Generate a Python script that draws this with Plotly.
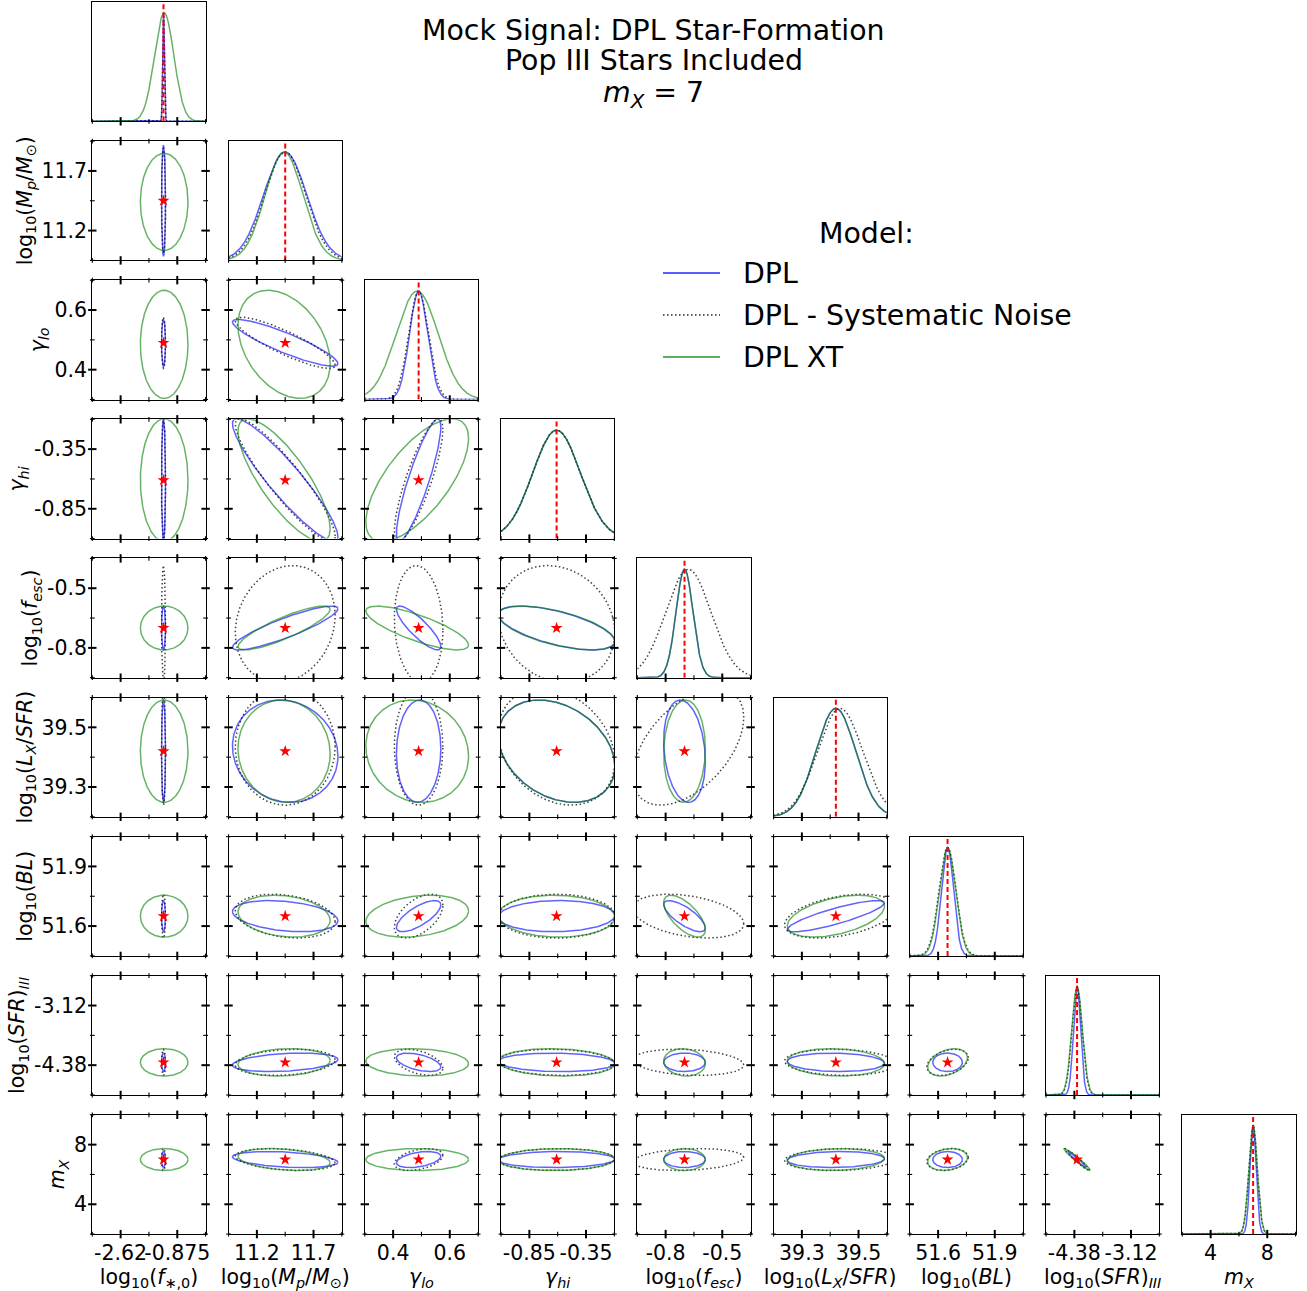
import numpy as np
import plotly.graph_objects as go

FIG_W, FIG_H = 1307, 1291
FONT = "DejaVu Sans"

# ---------------------------------------------------------------- parameters
param_labels = [
    "log<sub>10</sub>(<i>f</i><sub>∗,0</sub>)",
    "log<sub>10</sub>(<i>M<sub>p</sub></i>/<i>M</i><sub>⊙</sub>)",
    "<i>γ<sub>lo</sub></i>",
    "<i>γ<sub>hi</sub></i>",
    "log<sub>10</sub>(<i>f<sub>esc</sub></i>)",
    "log<sub>10</sub>(<i>L<sub>X</sub></i>/<i>SFR</i>)",
    "log<sub>10</sub>(<i>BL</i>)",
    "log<sub>10</sub>(<i>SFR</i>)<sub><i>III</i></sub>",
    "<i>m<sub>X</sub></i>",
]
axis_lo = [-3.5, 10.95, 0.3, -1.1, -0.95, 39.2, 51.45, -5.01, 2.0]
axis_hi = [0.0, 11.95, 0.7, -0.1, -0.35, 39.6, 52.05, -2.49, 10.0]
tick_values = [[-2.625, -0.875], [11.2, 11.7], [0.4, 0.6], [-0.85, -0.35],
               [-0.8, -0.5], [39.3, 39.5], [51.6, 51.9], [-4.38, -3.12], [4, 8]]
tick_labels = [["-2.62", "-0.875"], ["11.2", "11.7"], ["0.4", "0.6"], ["-0.85", "-0.35"],
               ["-0.8", "-0.5"], ["39.3", "39.5"], ["51.6", "51.9"], ["-4.38", "-3.12"], ["4", "8"]]

# injected (true) parameter values of the mock signal
truth = [-1.30, 11.45, 0.49, -0.61, -0.70, 39.42, 51.65, -4.32, 7.0]

# posterior summaries per model: means and standard deviations
mean_dpl = [-1.30, 11.45, 0.49, -0.61, -0.70, 39.42, 51.65, -4.32, 7.0]
mean_sys = [-1.30, 11.45, 0.49, -0.61, -0.68, 39.435, 51.65, -4.32, 7.0]
mean_xt = [-1.28, 11.44, 0.485, -0.61, -0.70, 39.42, 51.65, -4.32, 7.0]

sigma_dpl = [0.025, 0.19, 0.032, 0.21, 0.045, 0.07, 0.032, 0.08, 0.22]
sigma_sys = [0.025, 0.18, 0.035, 0.21, 0.12, 0.08, 0.045, 0.113, 0.30]
sigma_xt = [0.30, 0.166, 0.074, 0.21, 0.045, 0.07, 0.043, 0.118, 0.30]

# pairwise correlation coefficients (row parameter, column parameter)
pairs = [(1, 0), (2, 0), (3, 0), (4, 0), (5, 0), (6, 0), (7, 0), (8, 0),
         (2, 1), (3, 1), (4, 1), (5, 1), (6, 1), (7, 1), (8, 1),
         (3, 2), (4, 2), (5, 2), (6, 2), (7, 2), (8, 2),
         (4, 3), (5, 3), (6, 3), (7, 3), (8, 3),
         (5, 4), (6, 4), (7, 4), (8, 4),
         (6, 5), (7, 5), (8, 5),
         (7, 6), (8, 6),
         (8, 7)]
rho_dpl = [0, 0, 0, 0, 0, 0, 0, 0,
           -0.89, -0.92, 0.88, -0.10, -0.30, 0.30, -0.35,
           0.87, -0.85, 0.05, 0.72, -0.50, 0.40,
           -0.62, -0.30, 0.05, -0.10, 0.05,
           -0.20, -0.75, 0.00, 0.00,
           0.85, -0.10, 0.10,
           0.00, 0.00,
           -0.97]
rho_sys = [0, 0, 0, 0, 0, 0, 0, 0,
           -0.87, -0.91, 0.15, 0.00, -0.25, 0.20, -0.30,
           0.83, -0.10, 0.00, 0.50, -0.45, 0.40,
           -0.15, -0.25, 0.00, -0.10, 0.05,
           0.50, -0.35, -0.20, 0.20,
           0.40, -0.10, 0.10,
           0.35, 0.20,
           -0.97]
rho_xt = [0, 0, 0, 0, 0, 0, 0, 0,
          -0.35, -0.79, 0.85, -0.05, -0.20, 0.15, -0.30,
          0.68, -0.78, -0.10, 0.25, -0.10, 0.00,
          -0.60, -0.30, -0.05, -0.10, 0.05,
          0.05, -0.65, -0.10, 0.00,
          0.46, -0.10, 0.10,
          0.35, 0.20,
          -0.97]

model_names = ["DPL", "DPL - Systematic Noise", "DPL XT"]
model_colors = ["rgba(0,0,255,0.62)", "rgba(0,0,0,0.75)", "rgba(0,128,0,0.6)"]
legend_colors = ["rgba(0,0,255,0.85)", "rgba(0,0,0,0.85)", "rgba(0,128,0,0.85)"]
model_dash = ["solid", "1.5px,2.5px", "solid"]
model_means = [mean_dpl, mean_sys, mean_xt]
model_sigmas = [sigma_dpl, sigma_sys, sigma_xt]
model_rhos = [rho_dpl, rho_sys, rho_xt]

NP = len(param_labels)
CONTOUR_R = 2.45  # 95% region of a bivariate normal
LABEL_SIZE = 20.5
TITLE_SIZE = 28.4

# ---------------------------------------------------------------- geometry (px)
COL_L0, COL_STEP, PW = 92.3, 136.25, 113.3
ROW_T0, ROW_STEP, PH = 2.0, 139.1, 119.3


def px_x(p):
    return p / FIG_W


def px_y(p):
    return 1.0 - p / FIG_H


def gauss_curve(mu, sig, lo, hi):
    x = np.linspace(lo, hi, 2401)
    return x, np.exp(-0.5 * ((x - mu) / sig) ** 2)


def ellipse(mx, my, sx, sy, rho, r=CONTOUR_R, n=260):
    t = np.linspace(0.0, 2.0 * np.pi, n)
    a, b = np.cos(t), np.sin(t)
    return mx + r * sx * a, my + r * sy * (rho * a + np.sqrt(1.0 - rho ** 2) * b)


fig = go.Figure()
layout_axes = {}
shapes = []


def tick_shapes(L, T, R, B, sides):
    fracs = [0.0, 0.25, 0.5, 0.75, 1.0]
    for f in fracs:
        major = f in (0.25, 0.75)
        ln = 4.2 if major else 2.4
        lw = 2.0 if major else 1.1
        style = dict(type="line", xref="paper", yref="paper",
                     line=dict(color="black", width=lw), layer="above")
        xp = L + f * (R - L)
        yp = B - f * (B - T)
        if "b" in sides:
            shapes.append(dict(x0=px_x(xp), x1=px_x(xp), y0=px_y(B - ln), y1=px_y(B + ln), **style))
        if "t" in sides:
            shapes.append(dict(x0=px_x(xp), x1=px_x(xp), y0=px_y(T - ln), y1=px_y(T + ln), **style))
        if "l" in sides:
            shapes.append(dict(x0=px_x(L - ln), x1=px_x(L + ln), y0=px_y(yp), y1=px_y(yp), **style))
        if "r" in sides:
            shapes.append(dict(x0=px_x(R - ln), x1=px_x(R + ln), y0=px_y(yp), y1=px_y(yp), **style))


k = 0
for i in range(NP):
    for j in range(i + 1):
        k += 1
        sfx = "" if k == 1 else str(k)
        xa, ya = "x" + sfx, "y" + sfx
        L = COL_L0 + j * COL_STEP
        T = ROW_T0 + i * ROW_STEP
        R, B = L + PW, T + PH

        xaxis = dict(domain=[px_x(L), px_x(R)], anchor=ya, range=[axis_lo[j], axis_hi[j]],
                     showline=True, mirror=True, linecolor="black", linewidth=1.3,
                     showgrid=False, zeroline=False, ticks="", showticklabels=False,
                     tickangle=0, automargin=False, fixedrange=True)
        yaxis = dict(domain=[px_y(B), px_y(T)], anchor=xa,
                     showline=True, mirror=True, linecolor="black", linewidth=1.3,
                     showgrid=False, zeroline=False, ticks="", showticklabels=False,
                     automargin=False, fixedrange=True)
        if i == NP - 1:
            xaxis.update(tickmode="array", tickvals=tick_values[j], ticktext=tick_labels[j],
                         showticklabels=True, ticklabelstandoff=0,
                         tickfont=dict(family=FONT, size=LABEL_SIZE, color="black"),
                         title=dict(text=param_labels[j], standoff=6,
                                    font=dict(family=FONT, size=LABEL_SIZE, color="black")))
        if i == j:
            yaxis.update(range=[0, 1.1])
            tick_shapes(L, T, R, B, "b")
            for m in range(3):
                gx, gy = gauss_curve(model_means[m][i], model_sigmas[m][i], axis_lo[i], axis_hi[i])
                fig.add_trace(go.Scatter(x=gx, y=gy, xaxis=xa, yaxis=ya, mode="lines",
                                         line=dict(color=model_colors[m], width=1.5, dash=model_dash[m]),
                                         showlegend=False, hoverinfo="skip"))
            fig.add_trace(go.Scatter(x=[truth[i], truth[i]], y=[0, 1.1], xaxis=xa, yaxis=ya,
                                     mode="lines", line=dict(color="red", width=2, dash="5px,3px"),
                                     showlegend=False, hoverinfo="skip"))
        else:
            yaxis.update(range=[axis_lo[i], axis_hi[i]])
            tick_shapes(L, T, R, B, "btlr")
            if j == 0:
                yaxis.update(tickmode="array", tickvals=tick_values[i], ticktext=tick_labels[i],
                             showticklabels=True, ticklabelstandoff=0,
                             tickfont=dict(family=FONT, size=LABEL_SIZE, color="black"),
                             title=dict(text=param_labels[i], standoff=3,
                                        font=dict(family=FONT, size=LABEL_SIZE, color="black")))
            p = pairs.index((i, j))
            for m in range(3):
                ex, ey = ellipse(model_means[m][j], model_means[m][i],
                                 model_sigmas[m][j], model_sigmas[m][i], model_rhos[m][p])
                fig.add_trace(go.Scatter(x=ex, y=ey, xaxis=xa, yaxis=ya, mode="lines",
                                         line=dict(color=model_colors[m], width=1.5, dash=model_dash[m]),
                                         showlegend=False, hoverinfo="skip"))
            fig.add_trace(go.Scatter(x=[truth[j]], y=[truth[i]], xaxis=xa, yaxis=ya, mode="markers",
                                     marker=dict(symbol="star", size=9, color="red", line=dict(width=0)),
                                     showlegend=False, hoverinfo="skip", cliponaxis=False))
        layout_axes["xaxis" + sfx] = xaxis
        layout_axes["yaxis" + sfx] = yaxis

# ---------------------------------------------------------------- legend block
annotations = []
legend_rows_y = [273, 315, 357]
annotations.append(dict(text="Model:", x=px_x(866), y=px_y(233), xref="paper", yref="paper",
                        xanchor="center", yanchor="middle", showarrow=False,
                        font=dict(family=FONT, size=TITLE_SIZE, color="black")))
for m in range(3):
    shapes.append(dict(type="line", xref="paper", yref="paper",
                       x0=px_x(663), x1=px_x(720), y0=px_y(legend_rows_y[m]), y1=px_y(legend_rows_y[m]),
                       line=dict(color=legend_colors[m], width=1.5, dash=model_dash[m])))
    annotations.append(dict(text=model_names[m], x=px_x(741), y=px_y(legend_rows_y[m]),
                            xref="paper", yref="paper", xanchor="left", yanchor="middle",
                            showarrow=False, font=dict(family=FONT, size=TITLE_SIZE, color="black")))

# ---------------------------------------------------------------- title
title_lines = ["Mock Signal: DPL Star-Formation", "Pop III Stars Included", "<i>m<sub>X</sub></i> = 7"]
title_y = [30, 60.5, 94.5]
for txt, yy in zip(title_lines, title_y):
    annotations.append(dict(text=txt, x=px_x(653.5), y=px_y(yy), xref="paper", yref="paper",
                            xanchor="center", yanchor="middle", showarrow=False, height=29,
                            font=dict(family=FONT, size=TITLE_SIZE, color="black")))

fig.update_layout(
    width=FIG_W, height=FIG_H, autosize=False,
    margin=dict(l=0, r=0, t=0, b=0, pad=0, autoexpand=False),
    paper_bgcolor="white", plot_bgcolor="white",
    showlegend=False,
    font=dict(family=FONT, color="black"),
    shapes=shapes, annotations=annotations,
    **layout_axes,
)

fig.write_html("out.html", config={"responsive": False})
